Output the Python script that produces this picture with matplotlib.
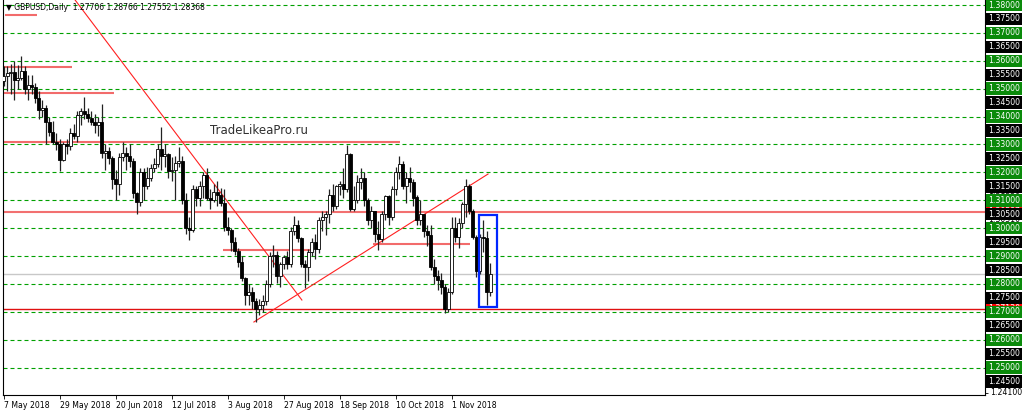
import numpy as np
import matplotlib
matplotlib.use("Agg")
import matplotlib.pyplot as plt
from matplotlib.patches import Rectangle

# GBPUSD daily, 7 May 2018 - 16 Nov 2018
opens = [1.3527, 1.3545, 1.3555, 1.3560, 1.3530, 1.3540, 1.3565, 1.3500, 1.3515, 1.3505,
         1.3465, 1.3425, 1.3430, 1.3380, 1.3345, 1.3310, 1.3300, 1.3245, 1.3300, 1.3295,
         1.3340, 1.3330, 1.3405, 1.3420, 1.3410, 1.3395, 1.3380, 1.3370, 1.3380, 1.3270,
         1.3275, 1.3250, 1.3175, 1.3160, 1.3255, 1.3270, 1.3260, 1.3240, 1.3125, 1.3095,
         1.3200, 1.3150, 1.3180, 1.3215, 1.3230, 1.3285, 1.3260, 1.3265, 1.3205, 1.3210,
         1.3235, 1.3240, 1.3100, 1.3000, 1.2995, 1.3140, 1.3110, 1.3150, 1.3190, 1.3110,
         1.3100, 1.3130, 1.3120, 1.3090, 1.3005, 1.2995, 1.2950, 1.2920, 1.2880, 1.2820,
         1.2760, 1.2770, 1.2740, 1.2710, 1.2725, 1.2740, 1.2800, 1.2900, 1.2905, 1.2830,
         1.2870, 1.2895, 1.2870, 1.2990, 1.3010, 1.2965, 1.2870, 1.2860, 1.2915, 1.2950,
         1.2925, 1.3030, 1.3040, 1.3050, 1.3120, 1.3080, 1.3150, 1.3160, 1.3140, 1.3265,
         1.3070, 1.3100, 1.3165, 1.3180, 1.3100, 1.3030, 1.3060, 1.2980, 1.2960, 1.3050,
         1.3115, 1.3040, 1.3140, 1.3200, 1.3230, 1.3150, 1.3180, 1.3165, 1.3110, 1.3030,
         1.3050, 1.2990, 1.2975, 1.2860, 1.2830, 1.2815, 1.2790, 1.2710, 1.2770, 1.3000,
         1.2970, 1.3020, 1.3085, 1.3150, 1.3060, 1.2970, 1.2845, 1.2970, 1.2965, 1.27706]
highs = [1.3580, 1.3580, 1.3590, 1.3600, 1.3585, 1.3617, 1.3580, 1.3550, 1.3550, 1.3520,
         1.3490, 1.3460, 1.3440, 1.3400, 1.3385, 1.3340, 1.3320, 1.3310, 1.3320, 1.3360,
         1.3375, 1.3420, 1.3430, 1.3470, 1.3430, 1.3420, 1.3410, 1.3400, 1.3445, 1.3300,
         1.3290, 1.3260, 1.3210, 1.3270, 1.3310, 1.3290, 1.3300, 1.3250, 1.3130, 1.3215,
         1.3215, 1.3220, 1.3230, 1.3250, 1.3300, 1.3362, 1.3300, 1.3270, 1.3255, 1.3260,
         1.3290, 1.3260, 1.3125, 1.3040, 1.3155, 1.3150, 1.3170, 1.3200, 1.3215, 1.3140,
         1.3160, 1.3170, 1.3145, 1.3140, 1.3040, 1.3000, 1.2970, 1.2930, 1.2900, 1.2825,
         1.2800, 1.2790, 1.2750, 1.2745, 1.2760, 1.2815, 1.2915, 1.2940, 1.2920, 1.2880,
         1.2905, 1.2920, 1.3005, 1.3043, 1.3030, 1.2970, 1.2885, 1.2925, 1.2965, 1.2980,
         1.3040, 1.3060, 1.3060, 1.3140, 1.3160, 1.3155, 1.3170, 1.3215, 1.3298, 1.3270,
         1.3150, 1.3190, 1.3215, 1.3200, 1.3110, 1.3080, 1.3060, 1.3025, 1.3060, 1.3120,
         1.3120, 1.3150, 1.3220, 1.3258, 1.3240, 1.3200, 1.3220, 1.3175, 1.3120, 1.3100,
         1.3050, 1.3010, 1.3010, 1.2890, 1.2850, 1.2840, 1.2800, 1.2785, 1.3040, 1.3040,
         1.3035, 1.3095, 1.3175, 1.3160, 1.3070, 1.2975, 1.2980, 1.3030, 1.2990, 1.28766]
lows = [1.3510, 1.3490, 1.3480, 1.3460, 1.3500, 1.3530, 1.3480, 1.3460, 1.3480, 1.3450,
        1.3390, 1.3400, 1.3300, 1.3330, 1.3300, 1.3280, 1.3205, 1.3240, 1.3265, 1.3280,
        1.3320, 1.3310, 1.3370, 1.3390, 1.3380, 1.3370, 1.3340, 1.3330, 1.3250, 1.3210,
        1.3230, 1.3140, 1.3100, 1.3120, 1.3240, 1.3210, 1.3220, 1.3110, 1.3050, 1.3080,
        1.3100, 1.3140, 1.3170, 1.3200, 1.3220, 1.3210, 1.3220, 1.3180, 1.3170, 1.3100,
        1.3220, 1.3085, 1.2980, 1.2957, 1.2985, 1.3080, 1.3080, 1.3110, 1.3100, 1.3070,
        1.3095, 1.3080, 1.3080, 1.2990, 1.2975, 1.2920, 1.2905, 1.2860, 1.2810, 1.2725,
        1.2725, 1.2710, 1.2662, 1.2690, 1.2700, 1.2725, 1.2790, 1.2860, 1.2805, 1.2790,
        1.2855, 1.2855, 1.2860, 1.2975, 1.2950, 1.2860, 1.2785, 1.2810, 1.2900, 1.2890,
        1.2910, 1.2990, 1.2975, 1.3020, 1.3060, 1.3070, 1.3120, 1.3110, 1.3130, 1.3060,
        1.3060, 1.3090, 1.3140, 1.3080, 1.3010, 1.3000, 1.2950, 1.2922, 1.2950, 1.3030,
        1.3010, 1.3030, 1.3120, 1.3175, 1.3140, 1.3090, 1.3130, 1.3080, 1.3010, 1.3010,
        1.2970, 1.2935, 1.2850, 1.2800, 1.2780, 1.2765, 1.2696, 1.2700, 1.2765, 1.2950,
        1.2930, 1.3000, 1.3040, 1.3050, 1.2960, 1.2826, 1.2835, 1.2915, 1.2723, 1.27552]
closes = [1.3545, 1.3555, 1.3560, 1.3530, 1.3540, 1.3565, 1.3500, 1.3515, 1.3505, 1.3465,
          1.3425, 1.3430, 1.3380, 1.3345, 1.3310, 1.3300, 1.3245, 1.3300, 1.3295, 1.3340,
          1.3330, 1.3405, 1.3420, 1.3410, 1.3395, 1.3380, 1.3370, 1.3380, 1.3270, 1.3275,
          1.3250, 1.3175, 1.3160, 1.3255, 1.3270, 1.3260, 1.3240, 1.3125, 1.3095, 1.3200,
          1.3150, 1.3180, 1.3215, 1.3230, 1.3285, 1.3260, 1.3265, 1.3205, 1.3210, 1.3235,
          1.3240, 1.3100, 1.3000, 1.2995, 1.3140, 1.3110, 1.3150, 1.3190, 1.3110, 1.3100,
          1.3130, 1.3120, 1.3090, 1.3005, 1.2995, 1.2950, 1.2920, 1.2880, 1.2820, 1.2760,
          1.2770, 1.2740, 1.2710, 1.2725, 1.2740, 1.2800, 1.2900, 1.2905, 1.2830, 1.2870,
          1.2895, 1.2870, 1.2990, 1.3010, 1.2965, 1.2870, 1.2860, 1.2915, 1.2950, 1.2925,
          1.3030, 1.3040, 1.3050, 1.3120, 1.3080, 1.3150, 1.3160, 1.3140, 1.3265, 1.3070,
          1.3100, 1.3165, 1.3180, 1.3100, 1.3030, 1.3060, 1.2980, 1.2960, 1.3050, 1.3115,
          1.3040, 1.3140, 1.3200, 1.3230, 1.3150, 1.3180, 1.3165, 1.3110, 1.3030, 1.3050,
          1.2990, 1.2975, 1.2860, 1.2830, 1.2815, 1.2790, 1.2710, 1.2770, 1.3000, 1.2970,
          1.3020, 1.3085, 1.3150, 1.3060, 1.2970, 1.2845, 1.2970, 1.2965, 1.2770, 1.28368]

date_labels = ["7 May 2018", "29 May 2018", "20 Jun 2018", "12 Jul 2018", "3 Aug 2018",
               "27 Aug 2018", "18 Sep 2018", "10 Oct 2018", "1 Nov 2018"]
date_ticks = [0, 16, 32, 48, 64, 80, 96, 112, 128]

green_levels = [1.38, 1.37, 1.36, 1.35, 1.34, 1.33, 1.32, 1.31, 1.30, 1.29, 1.28, 1.27, 1.26, 1.25]
black_levels = [1.375, 1.365, 1.355, 1.345, 1.335, 1.325, 1.315, 1.305, 1.295, 1.285, 1.275, 1.265, 1.255, 1.245]
hidden_levels = [1.33088, 1.31330, 1.30310, 1.29430, 1.28368, 1.26470]

# short red horizontal lines: price, start bar, end bar
seg_prices = [1.37641, 1.35777, 1.34845, 1.33088, 1.29215, 1.29430]
seg_start = [0.4, -0.2, -0.2, -0.2, 62.7, 105.5]
seg_end = [9.5, 19.5, 31.5, 113.2, 88.4, 133.2]

res_level = 1.30587
sup_level = 1.27120
last_price = 1.28368

title = "\u25bc GBPUSD,Daily  1.27706 1.28766 1.27552 1.28368"

fig = plt.figure(figsize=(10.24, 4.13), dpi=100)
ax = fig.add_axes([3 / 1024, 18 / 413, 982 / 1024, 395 / 413])
ax.set_xlim(-0.2, 280.4)
ax.set_ylim(1.2402, 1.3818)

o = np.array(opens)
h = np.array(highs)
l = np.array(lows)
c = np.array(closes)
x = np.arange(len(c))

# grid levels
for lv in green_levels:
    ax.axhline(lv, color="#00a000", lw=0.8, dashes=(3.6, 2.7), zorder=1)

ax.axhline(last_price, color="#c8c8c8", lw=1.0, zorder=1)
ax.axhline(res_level, color="#f27070", lw=1.5, zorder=2)
ax.axhline(sup_level, color="#e01010", lw=1.0, zorder=2)
ax.hlines(seg_prices, seg_start, seg_end, color="#f26b6b", lw=1.5, zorder=2)

# trend lines
ax.plot([20.4, 85.2], [1.3818, 1.27425], color="#ff2020", lw=0.8, zorder=2)
ax.plot([71.5, 138.4], [1.26637, 1.31942], color="#ff2020", lw=0.8, zorder=2)

# candles
ax.vlines(x, l, h, color="#222222", lw=0.9, zorder=3)
up = c >= o
body_lo = np.minimum(o, c)
body_h = np.maximum(np.abs(c - o), 0.00012)
ax.bar(x[up], body_h[up], bottom=body_lo[up], width=0.8, color="white",
       edgecolor="black", linewidth=0.6, zorder=4)
ax.bar(x[~up], body_h[~up], bottom=body_lo[~up], width=0.8, color="black",
       edgecolor="black", linewidth=0.6, zorder=4)

ax.add_patch(Rectangle((135.8, 1.27174), 5.1, 1.30472 - 1.27174, fill=False,
                       edgecolor="#0026ff", lw=1.6, zorder=5))

ax.text(58.9, 1.33484, "TradeLikeaPro.ru", fontsize=8.5, color="#303030",
        va="center", ha="left", zorder=5)
fig.text(6 / 1024, 1 - 7 / 413, title, fontsize=5.5, va="center", ha="left")

# axes styling
for s in ["left", "bottom", "right"]:
    ax.spines[s].set_color("black")
    ax.spines[s].set_linewidth(0.8)
ax.spines["top"].set_visible(False)
ax.set_xticks(date_ticks)
ax.set_xticklabels(date_labels, fontsize=5.6, ha="left")
ax.tick_params(axis="x", direction="out", length=3, width=0.6, pad=1)
ax.yaxis.tick_right()
ax.set_yticks(black_levels + green_levels + [1.241])
ax.set_yticklabels([])
ax.tick_params(axis="y", direction="out", length=2, width=0.6)

tr = ax.get_yaxis_transform()


def price_label(p, fc, tc, z):
    ax.text(1.003, p, "%.5f" % p, transform=tr, ha="left", va="center",
            fontsize=5.6, color=tc, clip_on=False, zorder=z,
            bbox=dict(boxstyle="square,pad=0.22", fc=fc, ec="none"))


for p in hidden_levels:
    price_label(p, "white", "black", 6)
price_label(sup_level, "#ff0000", "white", 7)
price_label(res_level, "#ff0000", "white", 7)
for p in black_levels:
    price_label(p, "black", "white", 8)
for p in green_levels:
    price_label(p, "#0a8a0a", "white", 8)
ax.text(1.005, 1.241, "1.24100", transform=tr, ha="left", va="center",
        fontsize=5.6, color="black", clip_on=False)

fig.savefig("out.png", dpi=100)
